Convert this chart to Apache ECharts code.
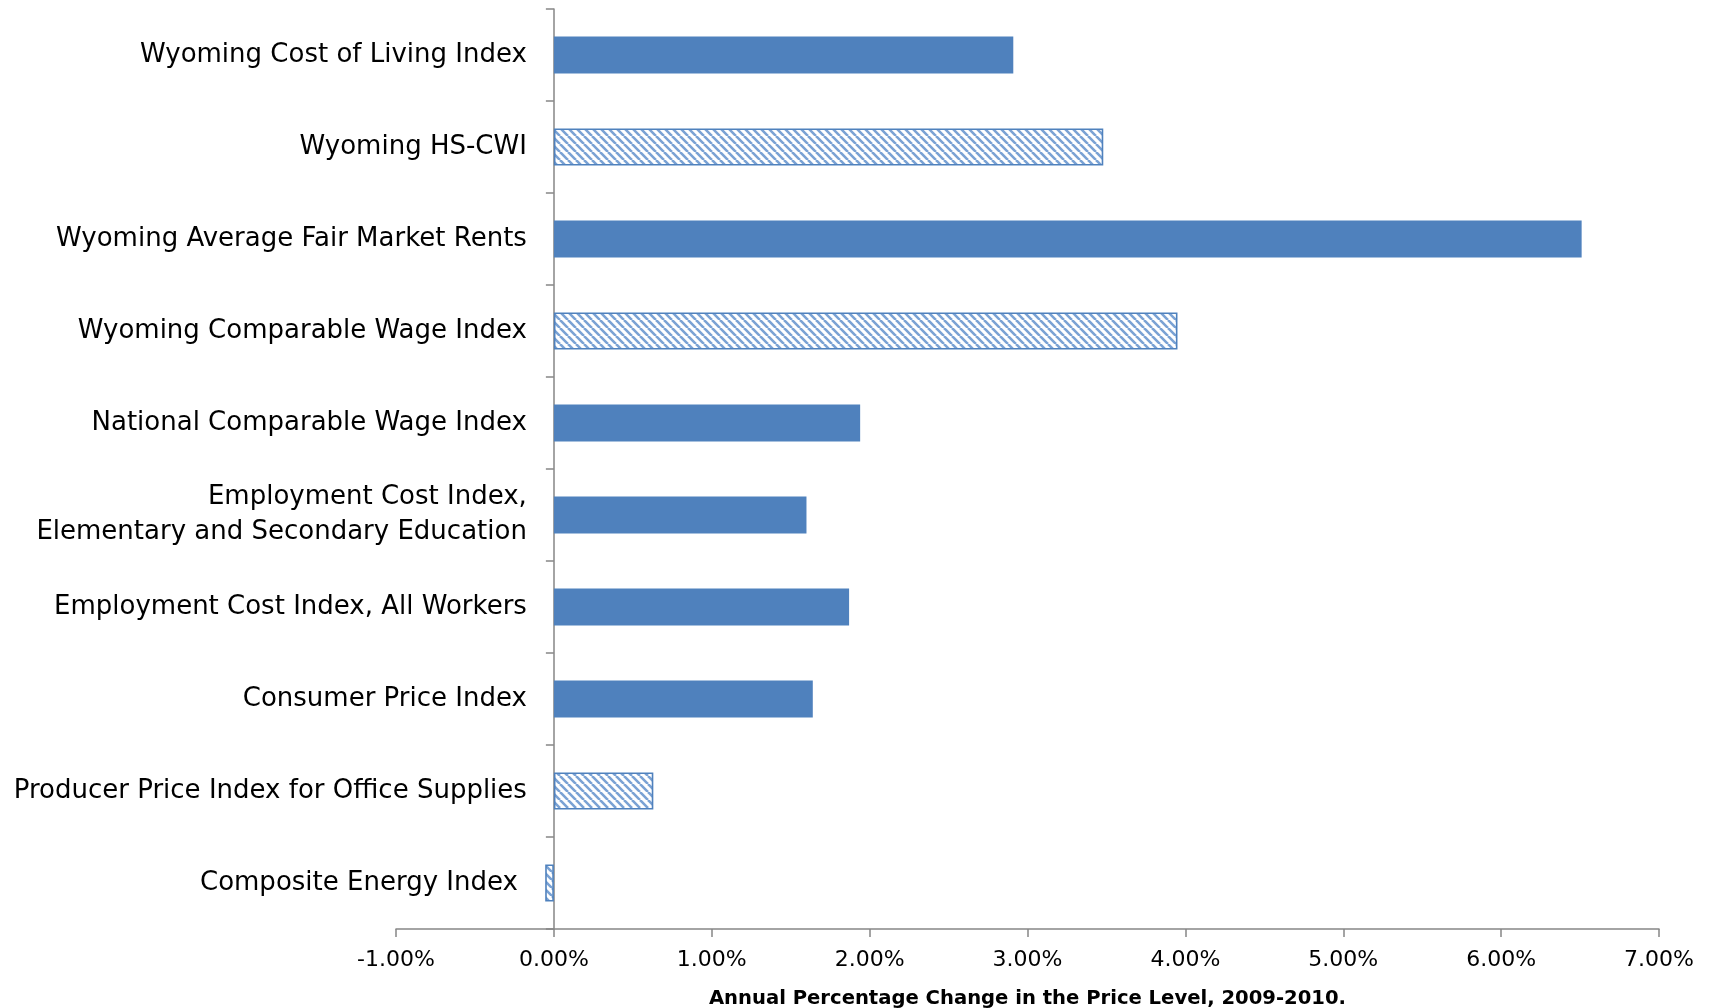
<!DOCTYPE html>
<html>
<head>
<meta charset="utf-8">
<script src="https://cdn.jsdelivr.net/npm/echarts@6/dist/echarts.min.js"></script>
<style>html,body{margin:0;padding:0;background:#fff}#c{width:1714px;height:1008px}</style>
</head>
<body>
<div id="c"></div>
<script>
const categories = [
  'Wyoming Cost of Living Index',
  'Wyoming HS-CWI',
  'Wyoming Average Fair Market Rents',
  'Wyoming Comparable Wage Index',
  'National Comparable Wage Index',
  'Employment Cost Index,\nElementary and Secondary Education',
  'Employment Cost Index, All Workers',
  'Consumer Price Index',
  'Producer Price Index for Office Supplies',
  'Composite Energy Index'
];
const values = [2.91, 3.48, 6.51, 3.95, 1.94, 1.60, 1.87, 1.64, 0.63, -0.055];
const hatched = [false, true, false, true, false, false, false, false, true, true];
const xTicks = { min: -1, max: 7, interval: 1 };
const axisTitle = 'Annual Percentage Change in the Price Level, 2009-2010.';

const BLUE = '#4F81BD';
function makePattern() {
  const s = 8;
  const cv = document.createElement('canvas');
  cv.width = s; cv.height = s;
  const ctx = cv.getContext('2d');
  ctx.fillStyle = '#fff';
  ctx.fillRect(0, 0, s, s);
  ctx.strokeStyle = '#7aa2d4';
  ctx.lineWidth = 2.6;
  ctx.beginPath();
  for (const k of [-s, 0, s]) { ctx.moveTo(k, 0); ctx.lineTo(k + s, s); }
  ctx.stroke();
  return cv;
}
const pattern = makePattern();

const FONT = 'DejaVu Sans';
const GRID_LEFT = 396, GRID_RIGHT = 55;
// labels are anchored at the grid's left edge; shift them so they sit beside the zero axis line
const zeroOffset = (0 - xTicks.min) / (xTicks.max - xTicks.min) * (1714 - GRID_LEFT - GRID_RIGHT);
const chart = echarts.init(document.getElementById('c'), null, { renderer: 'canvas' });
chart.setOption({
  animation: false,
  grid: { left: GRID_LEFT, right: GRID_RIGHT, top: 9, bottom: 79, containLabel: false, outerBoundsMode: 'none' },
  xAxis: {
    type: 'value',
    min: xTicks.min, max: xTicks.max, interval: xTicks.interval,
    splitLine: { show: false },
    axisLine: { show: true, lineStyle: { color: '#868686', width: 1.5 } },
    axisTick: { show: true, length: 8, inside: false, lineStyle: { color: '#868686', width: 1.5 } },
    axisLabel: { formatter: v => v.toFixed(2) + '%', color: '#000', fontFamily: FONT, fontSize: 22, margin: 20 },
    name: axisTitle,
    nameLocation: 'middle',
    nameGap: 60,
    nameTextStyle: { color: '#000', fontFamily: FONT, fontSize: 19.6, fontWeight: 'bold' }
  },
  yAxis: {
    type: 'category',
    inverse: true,
    data: categories.map((c, i) => values[i] < 0 ? { value: c, textStyle: { padding: [6, 9, 0, 0] } } : c),
    axisLine: { show: true, onZero: true, lineStyle: { color: '#868686', width: 1.5 } },
    axisTick: { show: true, length: 8, lineStyle: { color: '#868686', width: 1.5 } },
    axisLabel: { color: '#000', fontFamily: FONT, fontSize: 26, margin: 27 - zeroOffset, lineHeight: 35, padding: [6, 0, 0, 0] }
  },
  series: [{
    type: 'bar',
    barWidth: 37,
    data: values.map((v, i) => hatched[i]
      ? { value: v, itemStyle: { color: { image: pattern, repeat: 'repeat' }, borderColor: BLUE, borderWidth: 1.6 } }
      : { value: v, itemStyle: { color: BLUE } })
  }]
});
</script>
</body>
</html>
